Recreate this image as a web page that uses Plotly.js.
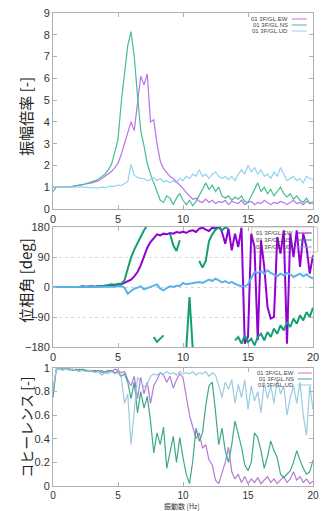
<!DOCTYPE html>
<html>
<head>
<meta charset="utf-8">
<script src="https://cdn.plot.ly/plotly-3.0.1.min.js"></script>
<style>html,body{margin:0;padding:0;background:#fff;}#chart{width:328px;height:511px;}</style>
</head>
<body>
<div id="chart"></div>
<script>
// ---- data ----
const freq = [0,0.25,0.5,0.75,1,1.25,1.5,1.75,2,2.25,2.5,2.75,3,3.25,3.5,3.75,4,4.25,4.5,4.75,5,5.25,5.5,5.75,6,6.25,6.5,6.75,7,7.25,7.5,7.75,8,8.25,8.5,8.75,9,9.25,9.5,9.75,10,10.25,10.5,10.75,11,11.25,11.5,11.75,12,12.25,12.5,12.75,13,13.25,13.5,13.75,14,14.25,14.5,14.75,15,15.25,15.5,15.75,16,16.25,16.5,16.75,17,17.25,17.5,17.75,18,18.25,18.5,18.75,19,19.25,19.5,19.75,20];
const seriesNames = ["01 3F/GL.EW","01 3F/GL.NS","01 3F/GL.UD"];

const ampEW = [1.0,1.0,1.0,1.0,1.01,1.02,1.04,1.06,1.08,1.1,1.13,1.17,
  1.2,1.25,1.3,1.4,1.5,1.6,1.72,1.9,
  2.1,2.5,3.0,3.4,4.0,3.6,5.0,6.1,5.7,6.2,4.0,4.1,
  3.0,2.2,1.85,1.65,1.5,1.4,1.25,1.1,
  0.95,0.75,0.6,0.45,0.5,0.35,0.3,0.45,0.3,0.4,0.25,0.35,
  0.3,0.4,0.2,0.35,0.3,0.25,0.4,0.2,
  0.3,0.35,0.2,0.3,0.25,0.4,0.3,0.2,0.3,0.25,0.35,0.3,
  0.2,0.3,0.4,0.25,0.3,0.2,0.35,0.3,0.25];
const ampNS = [0.8,1.0,1.0,1.0,1.01,1.02,1.04,1.06,1.09,1.12,1.16,1.2,
  1.25,1.3,1.38,1.48,1.6,1.8,2.05,2.6,
  3.2,4.9,6.3,7.5,8.15,7.0,5.2,3.6,2.9,2.1,1.6,1.2,
  0.8,0.4,0.3,0.6,0.5,0.2,0.5,0.7,
  0.4,0.2,0.4,0.15,0.35,0.6,0.9,1.2,0.9,1.1,0.8,1.0,
  0.6,0.5,0.6,0.4,0.55,0.45,0.6,0.35,
  0.3,0.6,0.9,1.2,0.8,1.0,0.7,0.9,0.6,0.8,1.0,0.7,
  0.55,0.7,0.45,0.6,0.4,0.3,0.5,0.25,0.35];
const ampUD = [1.0,1.0,1.0,1.0,1.0,1.0,1.01,1.0,1.02,1.01,1.0,0.98,
  0.97,0.99,0.97,1.0,0.98,1.02,1.05,1.04,
  1.1,1.08,1.15,1.25,2.05,1.55,1.45,1.4,1.4,1.3,1.35,1.45,
  1.3,1.4,1.25,1.3,1.2,1.3,1.2,1.4,
  1.3,1.5,1.4,1.6,1.5,1.8,1.5,1.6,1.4,1.6,1.7,1.5,
  1.4,1.5,1.35,1.5,1.3,1.6,1.8,1.6,
  2.0,1.7,1.9,1.6,1.8,1.5,1.6,1.4,1.7,1.5,1.9,1.6,
  1.3,1.4,1.5,1.3,1.4,1.2,1.5,1.4,1.35];

const phaseEW = [0,0,0,1,0,-1,0,1,0,2,1,0,
  2,1,3,2,4,3,5,4,
  5,8,12,18,22,32,45,65,95,118,135,148,
  158,155,160,158,162,160,165,163,
  166,162,168,170,165,175,178,172,168,178,175,186,
  165,130,175,110,160,120,178,-170,
  -150,160,120,-160,140,60,-60,-95,-90,150,100,170,
  -170,160,90,170,60,160,120,40,95];
const phaseNS = [0,0,0,-1,0,1,0,-1,0,1,0,2,
  1,0,3,2,4,6,8,7,
  10,10,20,55,88,112,132,155,170,185,null,-150,
  -165,-155,-145,null,160,125,108,140,
  null,-185,-30,-185,null,78,58,78,138,158,172,178,
  170,179,174,null,-160,-150,-170,-145,
  -165,-155,-175,-150,-140,-160,-135,-150,-125,-140,-115,-130,
  -105,-120,-95,-110,-85,-100,-75,-90,-62];
const phaseUD = [0,0,1,0,-1,0,1,0,-1,0,1,0,
  0,1,0,-1,0,1,0,1,
  2,3,-2,-20,-12,-5,-2,2,-7,-3,2,5,
  8,-5,-10,-3,2,0,4,3,
  12,8,10,12,14,15,12,18,22,18,25,20,
  14,18,12,15,9,5,3,2,
  8,25,45,42,48,40,50,42,38,32,40,35,
  42,38,30,36,40,32,38,30,25];

const cohEW = [0.8,0.99,0.99,0.99,0.99,0.99,0.99,0.98,0.99,0.98,0.98,0.97,
  0.98,0.97,0.98,0.96,0.97,0.98,0.97,0.99,
  0.98,0.96,0.97,0.9,0.85,0.93,0.74,0.92,0.78,0.88,0.7,0.85,
  0.9,0.96,0.94,0.88,0.93,0.83,0.9,0.95,
  0.92,0.75,0.6,0.5,0.4,0.45,0.32,0.35,0.22,0.18,0.05,0.02,
  0.12,0.2,0.33,0.12,0.06,0.1,0.03,0.08,
  0.02,0.06,0.03,0.07,0.02,0.05,0.08,0.03,0.06,0.02,0.05,0.08,
  0.03,0.06,0.12,0.05,0.08,0.03,0.06,0.02,0.04];
const cohNS = [0.75,0.99,0.99,0.99,0.99,0.99,0.98,0.99,0.98,0.99,0.98,0.98,
  0.97,0.98,0.97,0.98,0.96,0.97,0.98,0.96,
  0.97,0.93,0.95,0.88,0.74,0.88,0.62,0.8,0.66,0.76,0.55,0.28,
  0.45,0.35,0.5,0.15,0.3,0.42,0.2,0.41,
  0.24,0.1,0.02,0.21,0.49,0.38,0.45,0.68,0.85,0.88,0.63,0.35,
  0.49,0.3,0.2,0.35,0.55,0.45,0.33,0.18,
  0.13,0.2,0.45,0.41,0.3,0.15,0.25,0.38,0.3,0.24,0.1,0.07,
  0.1,0.13,0.2,0.3,0.22,0.15,0.1,0.12,0.22];
const cohUD = [0.82,0.99,0.99,0.98,0.99,0.98,0.99,0.98,0.97,0.98,0.97,0.98,
  0.97,0.96,0.97,0.94,0.96,0.95,0.97,0.95,
  0.96,0.92,0.7,0.78,0.35,0.62,0.92,0.88,0.84,0.86,0.93,0.95,
  0.94,0.96,0.95,0.97,0.95,0.96,0.94,0.97,
  0.95,0.96,0.95,0.97,0.94,0.96,0.95,0.97,0.93,0.96,0.94,0.85,
  0.75,0.88,0.82,0.9,0.7,0.86,0.75,0.9,
  0.65,0.85,0.72,0.8,0.62,0.88,0.74,0.85,0.7,0.9,0.78,0.85,
  0.6,0.75,0.85,0.7,0.88,0.6,0.43,0.85,0.65];

// ---- styling ----
const ampColors = ["#bb72e8", "#48bd93", "#92d2f3"];
const phaseColors = ["#9400d3", "#159e76", "#56b4e9"];
const cohColors = ["#b67ad8", "#3fa888", "#9ccbe3"];

const W = 328, H = 511, ML = 53.3, MR = 14.7, MT = 13, MB = 25;
const PW = W - ML - MR, PH = H - MT - MB;
const px = v => (v - ML) / PW;
const py = v => (H - MB - v) / PH;

function tr(y, name, color, width, xa, ya) {
  return {x: freq, y: y, name: name, type: 'scatter', mode: 'lines',
    line: {color: color, width: width}, xaxis: xa, yaxis: ya,
    showlegend: false, connectgaps: false, hoverinfo: 'skip'};
}
const traces = [
  tr(ampEW, seriesNames[0], ampColors[0], 1.2, 'x', 'y'),
  tr(ampNS, seriesNames[1], ampColors[1], 1.2, 'x', 'y'),
  tr(ampUD, seriesNames[2], ampColors[2], 1.2, 'x', 'y'),
  tr(phaseEW, seriesNames[0], phaseColors[0], 2, 'x2', 'y2'),
  tr(phaseNS, seriesNames[1], phaseColors[1], 2, 'x2', 'y2'),
  tr(phaseUD, seriesNames[2], phaseColors[2], 2, 'x2', 'y2'),
  tr(cohEW, seriesNames[0], cohColors[0], 1.2, 'x3', 'y3'),
  tr(cohNS, seriesNames[1], cohColors[1], 1.2, 'x3', 'y3'),
  tr(cohUD, seriesNames[2], cohColors[2], 1.2, 'x3', 'y3')
];

const tickFont = {family: 'Liberation Sans, Arial, sans-serif', size: 11, color: '#333'};
const axBase = {showline: true, linecolor: '#b0b0b0', linewidth: 1, mirror: 'ticks',
  ticks: 'inside', ticklen: 4, tickcolor: '#b0b0b0', showgrid: false, zeroline: false,
  tickfont: tickFont, fixedrange: true};
function xax(anchor, fsize) {
  return Object.assign({}, axBase, {anchor: anchor, domain: [0, 1], range: [0, 20], dtick: 5, tick0: 0,
    tickfont: Object.assign({}, tickFont, {size: fsize})});
}

const titleFont = {family: 'Noto Sans CJK JP, sans-serif', size: 15, color: '#222'};
const legFont = {family: 'Liberation Sans, Arial, sans-serif', size: 6, color: '#444'};

const annotations = [
  {text: '振幅倍率 [-]', x: px(25), y: py(116), xref: 'paper', yref: 'paper', textangle: -90, showarrow: false, font: titleFont, xanchor: 'center', yanchor: 'middle'},
  {text: '位相角 [deg]', x: px(25), y: py(281), xref: 'paper', yref: 'paper', textangle: -90, showarrow: false, font: titleFont, xanchor: 'center', yanchor: 'middle'},
  {text: 'コヒーレンス [-]', x: px(26), y: py(427), xref: 'paper', yref: 'paper', textangle: -90, showarrow: false, font: Object.assign({}, titleFont, {size: 14}), xanchor: 'center', yanchor: 'middle'},
  {text: '振動数 [Hz]', x: px(182), y: py(506.5), xref: 'paper', yref: 'paper', showarrow: false, font: {family: 'Noto Sans CJK JP, sans-serif', size: 7, color: '#333'}, xanchor: 'center', yanchor: 'middle', borderpad: 0}
];
const shapes = [];
function addLegend(textRight, sampleX0, sampleX1, ys, colors, alignLeft) {
  ys.forEach((yy, i) => {
    annotations.push({text: seriesNames[i], x: px(textRight), y: py(yy), xref: 'paper', yref: 'paper',
      showarrow: false, font: legFont, xanchor: alignLeft ? 'left' : 'right', yanchor: 'middle',
      borderpad: 0});
    shapes.push({type: 'line', xref: 'paper', yref: 'paper', x0: px(sampleX0), x1: px(sampleX1),
      y0: py(yy), y1: py(yy), line: {color: colors[i], width: 1}});
  });
}
addLegend(289, 292, 307, [19, 25, 31], ampColors, false);
addLegend(295, 298, 312, [373, 379, 385], cohColors, false);
addLegend(255, 296, 312, [233, 240, 247], phaseColors, true);
shapes.push({type: 'rect', xref: 'paper', yref: 'paper', x0: px(252), x1: px(318), y0: py(252), y1: py(227),
  line: {color: '#c8c8c8', width: 1}, layer: 'below'});

const layout = {
  width: W, height: H,
  margin: {l: ML, r: MR, t: MT, b: MB, pad: 0},
  paper_bgcolor: '#fff', plot_bgcolor: '#fff',
  showlegend: false,
  xaxis: xax('y', 11), xaxis2: xax('y2', 11), xaxis3: xax('y3', 10),
  yaxis: Object.assign({}, axBase, {anchor: 'x', domain: [py(209), 1], range: [0, 9], dtick: 1}),
  yaxis2: Object.assign({}, axBase, {anchor: 'x2', domain: [py(347), py(227)], range: [-180, 180], dtick: 90, tick0: 0,
    showgrid: true, gridcolor: '#d8d8d8', griddash: 'dot', gridwidth: 1}),
  yaxis3: Object.assign({}, axBase, {anchor: 'x3', domain: [0, py(368)], range: [0, 1], dtick: 0.2, tick0: 0}),
  annotations: annotations,
  shapes: shapes
};

Plotly.newPlot('chart', traces, layout, {staticPlot: true, displayModeBar: false});
</script>
</body>
</html>
